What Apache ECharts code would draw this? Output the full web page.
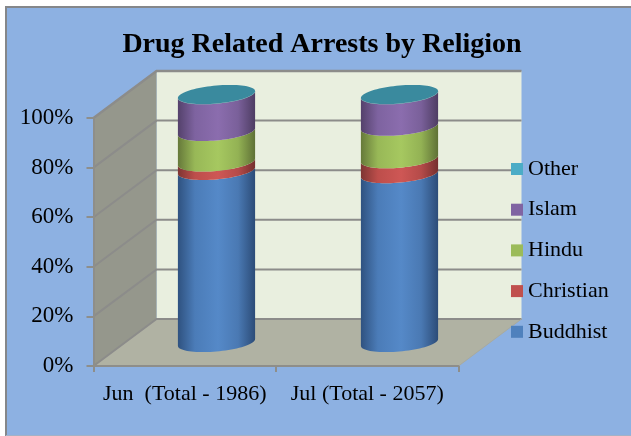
<!DOCTYPE html>
<html><head><meta charset="utf-8">
<style>html,body{margin:0;padding:0;background:#fff}#c{width:631px;height:436px}</style>
<script src="https://cdn.jsdelivr.net/npm/echarts@6/dist/echarts.min.js"></script>
</head><body><div id="c"></div>
<script>
const categories = ['Jun  (Total - 1986)', 'Jul (Total - 2057)'];
const buddhist  = [69.4, 68.1];
const christian = [3.4, 6.0];
const hindu     = [12.3, 13.1];
const islam     = [14.8, 12.7];
const other     = [0.1, 0.1];
const seriesNames = ['Buddhist', 'Christian', 'Hindu', 'Islam', 'Other'];
const seriesValues = [buddhist, christian, hindu, islam, other];
const seriesColors = ['#4F81BD', '#C0504D', '#9BBB59', '#8064A2', '#4BACC6'];
const shades = [
  ['#2F5280', '#4B7CB8', '#5589C8', '#4A79B3', '#2C4C78'],
  ['#7E3533', '#BD4E4B', '#CE5755', '#B54B49', '#752F2E'],
  ['#66793A', '#98B857', '#A6C860', '#93B254', '#5F7136'],
  ['#54416B', '#7E63A0', '#8B6DAE', '#7A609A', '#4E3D63'],
  ['#2E7A8E', '#2E7A8E', '#2E7A8E', '#2E7A8E', '#2E7A8E']
];
const topFill = '#3A8A9E';
const yTicks = [0, 20, 40, 60, 80, 100];
const depth = [63, -47];
const cylRatio = 0.423, ellB = 9, ellS = 3.4;
const fontFam = '"Liberation Serif", serif';

function arc(cx, yc, a, from, to, n) {
  const p = [];
  for (let i = 0; i <= n; i++) {
    const t = from + (to - from) * i / n;
    p.push([cx + a * Math.cos(t), yc - ellS * Math.cos(t) + ellB * Math.sin(t)]);
  }
  return p;
}
function grad(cols) {
  return new echarts.graphic.LinearGradient(0, 0, 1, 0,
    cols.map((c, i) => ({ offset: [0, .22, .52, .78, 1][i], color: c })));
}
const frameSeries = {
  type: 'custom', silent: true, z: 1, coordinateSystem: 'cartesian2d', data: [[0, 0]],
  renderItem(params, api) {
    const cs = params.coordSys, L = cs.x, R = cs.x + cs.width;
    const y0 = api.coord([0, 0])[1], y1 = api.coord([0, 100])[1];
    const dx = depth[0], dy = depth[1];
    const kids = [
      { type: 'polygon', shape: { points: [[L + dx, y1 + dy], [R + dx, y1 + dy], [R + dx, y0 + dy], [L + dx, y0 + dy]] }, style: { fill: '#E9EFDF' } },
      { type: 'polygon', shape: { points: [[L, y1], [L + dx, y1 + dy], [L + dx, y0 + dy], [L, y0]] }, style: { fill: '#95978C' } },
      { type: 'polygon', shape: { points: [[L, y0], [L + dx, y0 + dy], [R + dx, y0 + dy], [R, y0]] }, style: { fill: '#B0B2A3' } }
    ];
    yTicks.forEach(v => {
      const y = api.coord([0, v])[1];
      kids.push({ type: 'polyline', shape: { points: [[L, y], [L + dx, y + dy], [R + dx, y + dy]] },
        style: { fill: 'none', stroke: '#8C8C8A', lineWidth: v === 100 ? 2.4 : 2 } });
    });
    kids.push({ type: 'line', shape: { x1: R, y1: y0, x2: R + dx, y2: y0 + dy }, style: { stroke: '#A8AAA0', lineWidth: 1 } });
    return { type: 'group', children: kids };
  }
};
const bandSeries = seriesNames.map((name, si) => ({
  name, type: 'custom', coordinateSystem: 'cartesian2d', z: 4, silent: true,
  itemStyle: { color: seriesColors[si] },
  encode: { x: 0, y: [1, 2] },
  data: categories.map((c, ci) => {
    let base = 0;
    for (let k = 0; k < si; k++) base += seriesValues[k][ci];
    return [ci, base, base + seriesValues[si][ci]];
  }),
  renderItem(params, api) {
    const ci = api.value(0), v0 = api.value(1), v1 = api.value(2);
    const c0 = api.coord([ci, v0]), c1 = api.coord([ci, v1]);
    const a = api.size([1, 0])[0] * cylRatio / 2;
    const cx = c0[0] + depth[0] / 2 + 0.25 + ci * 0.5;
    const y0 = c0[1] + depth[1] / 2, y1 = c1[1] + depth[1] / 2;
    const pts = arc(cx, y0, a, 0, Math.PI, 40).concat(arc(cx, y1, a, Math.PI, 0, 40));
    const kids = [{ type: 'polygon', shape: { points: pts }, style: { fill: grad(shades[si]) } }];
    if (si === seriesNames.length - 1) {
      kids.push({ type: 'polygon', shape: { points: arc(cx, y1, a, 0, Math.PI * 2, 80) }, style: { fill: topFill } });
    }
    return { type: 'group', children: kids };
  }
}));

const chart = echarts.init(document.getElementById('c'), null, { renderer: 'canvas' });
chart.setOption({
  animation: false,
  backgroundColor: '#fff',
  graphic: [
    { type: 'rect', z: -10, silent: true, shape: { x: 5, y: 6, width: 640, height: 430 }, style: { fill: '#8DB1E2' } },
    { type: 'polyline', z: -9, silent: true, shape: { points: [[6, 436], [6, 7], [640, 7]] }, style: { fill: 'none', stroke: '#85878A', lineWidth: 2 } },
    { type: 'line', z: -9, silent: true, shape: { x1: 6, y1: 435.5, x2: 631, y2: 435.5 }, style: { stroke: '#A3B2C6', lineWidth: 1 } }
  ],
  title: { text: 'Drug Related Arrests by Religion', left: 317, top: 26, textAlign: 'center',
    textStyle: { fontFamily: fontFam, fontWeight: 'bold', fontSize: 28, color: '#000' } },
  grid: { left: 93.5, top: 118, width: 365, height: 248, containLabel: false },
  legend: {
    data: seriesNames.slice().reverse(), orient: 'vertical', left: 511, top: 158, padding: 0,
    itemWidth: 12, itemHeight: 12, itemGap: 18.7, selectedMode: false,
    icon: 'rect', textStyle: { fontFamily: fontFam, fontSize: 22, color: '#000' }
  },
  xAxis: {
    type: 'category', data: categories, z: 3,
    axisLine: { lineStyle: { color: '#8E8E8A', width: 2 } },
    axisTick: { show: true, length: 6, lineStyle: { color: '#8E8E8A', width: 2 } },
    axisLabel: { fontFamily: fontFam, fontSize: 22, color: '#000', margin: 17, interval: 0, hideOverlap: false },
    splitLine: { show: false }
  },
  yAxis: {
    type: 'value', min: 0, max: 100, interval: 20, z: 3,
    axisLine: { show: true, lineStyle: { color: '#8E8E8A', width: 2 } },
    axisTick: { show: true, length: 7, lineStyle: { color: '#8E8E8A', width: 2 } },
    axisLabel: { formatter: '{value}%', fontFamily: fontFam, fontSize: 23, color: '#000', margin: 20, padding: [3, 0, 0, 0] },
    splitLine: { show: false }
  },
  series: [frameSeries].concat(bandSeries)
});
</script></body></html>
